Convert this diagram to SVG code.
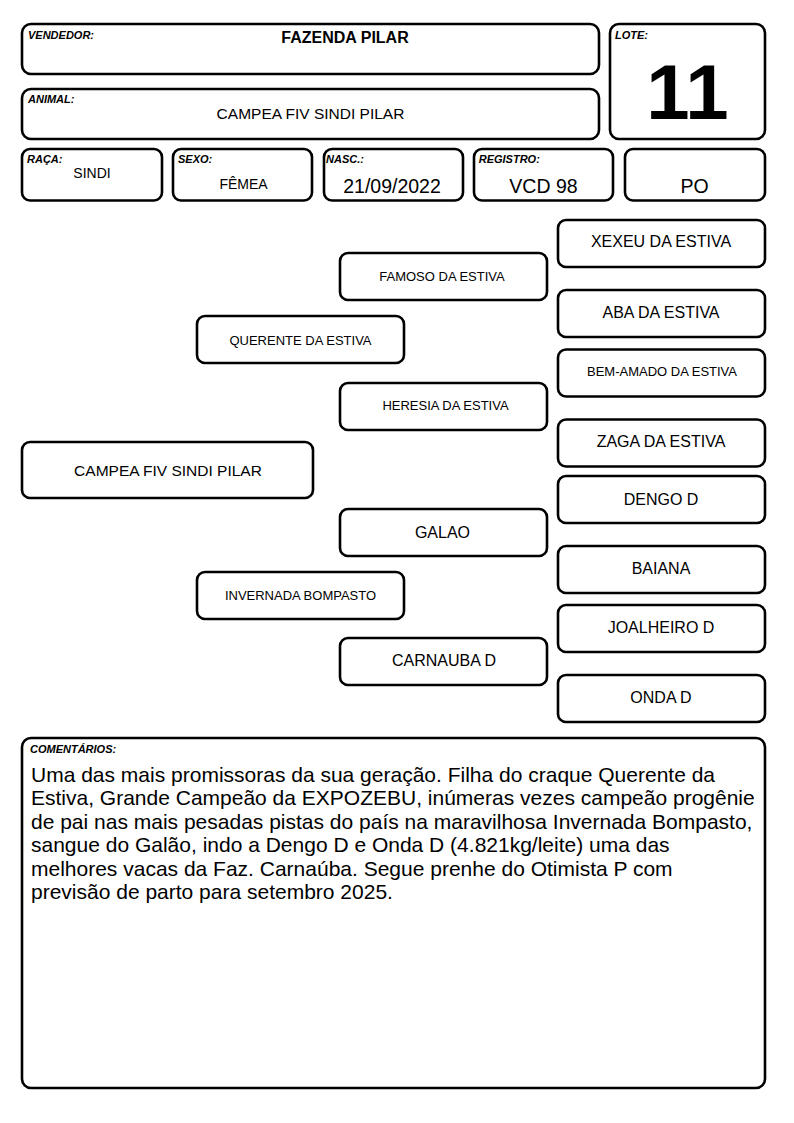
<svg xmlns="http://www.w3.org/2000/svg" width="794" height="1123" viewBox="0 0 794 1123">
<style>
  .box { fill: #ffffff; stroke: #000000; stroke-width: 2.6; }
  .lbl { font-family: "Liberation Sans", Arial, sans-serif; font-size: 11px; font-weight: bold; font-style: italic; fill: #000; }
  .val { font-family: "Liberation Sans", Arial, sans-serif; fill: #000; text-anchor: middle; }
  .t16 { font-size: 16px; }
  .t13 { font-size: 13px; }
  .t195 { font-size: 19.5px; }
  .com { font-family: "Liberation Sans", Arial, sans-serif; font-size: 21px; fill: #000; }
</style>
<rect x="0" y="0" width="794" height="1123" fill="#ffffff"/>

<g id="header">
  <g id="vendedor">
    <rect class="box" x="22" y="24" width="577" height="50" rx="9"/>
    <text class="lbl" x="28" y="39">VENDEDOR:</text>
    <text class="val" x="345" y="43.3" font-size="16" font-weight="bold">FAZENDA PILAR</text>
  </g>
  <g id="animal">
    <rect class="box" x="22" y="89" width="577" height="50" rx="9"/>
    <text class="lbl" x="28" y="102.7">ANIMAL:</text>
    <text class="val" x="310.5" y="119.3" font-size="15.5">CAMPEA FIV SINDI PILAR</text>
  </g>
  <g id="lote">
    <rect class="box" x="610" y="24" width="155" height="115" rx="9"/>
    <text class="lbl" x="615" y="38.7">LOTE:</text>
    <text class="val" x="687.5" y="119" font-size="78" font-weight="bold">11</text>
  </g>
  <g id="raca">
    <rect class="box" x="22" y="149" width="140" height="51.5" rx="8"/>
    <text class="lbl" x="27" y="162.5">RAÇA:</text>
    <text class="val" x="92" y="178.3" font-size="14">SINDI</text>
  </g>
  <g id="sexo">
    <rect class="box" x="173" y="149" width="139" height="51.5" rx="8"/>
    <text class="lbl" x="178" y="162.5">SEXO:</text>
    <text class="val" x="243.5" y="189.3" font-size="14">FÊMEA</text>
  </g>
  <g id="nasc">
    <rect class="box" x="324" y="149" width="139" height="51.5" rx="8"/>
    <text class="lbl" x="326" y="162.5">NASC.:</text>
    <text class="val t195" x="392" y="193.3">21/09/2022</text>
  </g>
  <g id="registro">
    <rect class="box" x="474" y="149" width="139" height="51.5" rx="8"/>
    <text class="lbl" x="478.7" y="162.5">REGISTRO:</text>
    <text class="val t195" x="543.5" y="193.3">VCD 98</text>
  </g>
  <g id="po">
    <rect class="box" x="625" y="149" width="140" height="51.5" rx="8"/>
    <text class="val t195" x="694.5" y="193">PO</text>
  </g>
</g>

<g id="connectors"></g>

<g id="pedigree">
  <g id="animal-node">
    <rect class="box" x="22" y="442" width="291" height="56" rx="8"/>
    <text class="val" x="168" y="476" font-size="15.5">CAMPEA FIV SINDI PILAR</text>
  </g>
  <g id="pai">
    <rect class="box" x="197" y="316" width="207" height="47" rx="8"/>
    <text class="val t13" x="300.5" y="345">QUERENTE DA ESTIVA</text>
  </g>
  <g id="mae">
    <rect class="box" x="197" y="572" width="207" height="47" rx="8"/>
    <text class="val t13" x="300.5" y="600">INVERNADA BOMPASTO</text>
  </g>
  <g id="avo-pp">
    <rect class="box" x="340" y="253" width="207" height="47" rx="8"/>
    <text class="val t13" x="442" y="281">FAMOSO DA ESTIVA</text>
  </g>
  <g id="avo-pm">
    <rect class="box" x="340" y="383" width="207" height="47" rx="8"/>
    <text class="val t13" x="445.5" y="410">HERESIA DA ESTIVA</text>
  </g>
  <g id="avo-mp">
    <rect class="box" x="340" y="509" width="207" height="47" rx="8"/>
    <text class="val t16" x="442.5" y="537.7">GALAO</text>
  </g>
  <g id="avo-mm">
    <rect class="box" x="340" y="638" width="207" height="47" rx="8"/>
    <text class="val t16" x="444" y="665.7">CARNAUBA D</text>
  </g>
  <g id="bis-1">
    <rect class="box" x="558" y="220" width="207" height="47" rx="8"/>
    <text class="val t16" x="661" y="247.3">XEXEU DA ESTIVA</text>
  </g>
  <g id="bis-2">
    <rect class="box" x="558" y="290" width="207" height="47" rx="8"/>
    <text class="val t16" x="661" y="318.3">ABA DA ESTIVA</text>
  </g>
  <g id="bis-3">
    <rect class="box" x="558" y="349.5" width="207" height="47" rx="8"/>
    <text class="val t13" x="662" y="375.7">BEM-AMADO DA ESTIVA</text>
  </g>
  <g id="bis-4">
    <rect class="box" x="558" y="419.5" width="207" height="47" rx="8"/>
    <text class="val t16" x="661" y="446.7">ZAGA DA ESTIVA</text>
  </g>
  <g id="bis-5">
    <rect class="box" x="558" y="476" width="207" height="47" rx="8"/>
    <text class="val t16" x="661" y="505">DENGO D</text>
  </g>
  <g id="bis-6">
    <rect class="box" x="558" y="546" width="207" height="47" rx="8"/>
    <text class="val t16" x="661" y="574">BAIANA</text>
  </g>
  <g id="bis-7">
    <rect class="box" x="558" y="605" width="207" height="47" rx="8"/>
    <text class="val t16" x="661" y="633.3">JOALHEIRO D</text>
  </g>
  <g id="bis-8">
    <rect class="box" x="558" y="675" width="207" height="47" rx="8"/>
    <text class="val t16" x="661" y="703.3">ONDA D</text>
  </g>
</g>

<g id="comentarios">
  <rect class="box" x="22" y="738" width="743" height="350" rx="9"/>
  <text class="lbl" x="30" y="752.7">COMENTÁRIOS:</text>
  <text class="com" x="31" y="781.5">Uma das mais promissoras da sua geração. Filha do craque Querente da</text>
  <text class="com" x="31" y="805">Estiva, Grande Campeão da EXPOZEBU, inúmeras vezes campeão progênie</text>
  <text class="com" x="31" y="828.5">de pai nas mais pesadas pistas do país na maravilhosa Invernada Bompasto,</text>
  <text class="com" x="31" y="852">sangue do Galão, indo a Dengo D e Onda D (4.821kg/leite) uma das</text>
  <text class="com" x="31" y="875.5">melhores vacas da Faz. Carnaúba. Segue prenhe do Otimista P com</text>
  <text class="com" x="31" y="899">previsão de parto para setembro 2025.</text>
</g>
</svg>
